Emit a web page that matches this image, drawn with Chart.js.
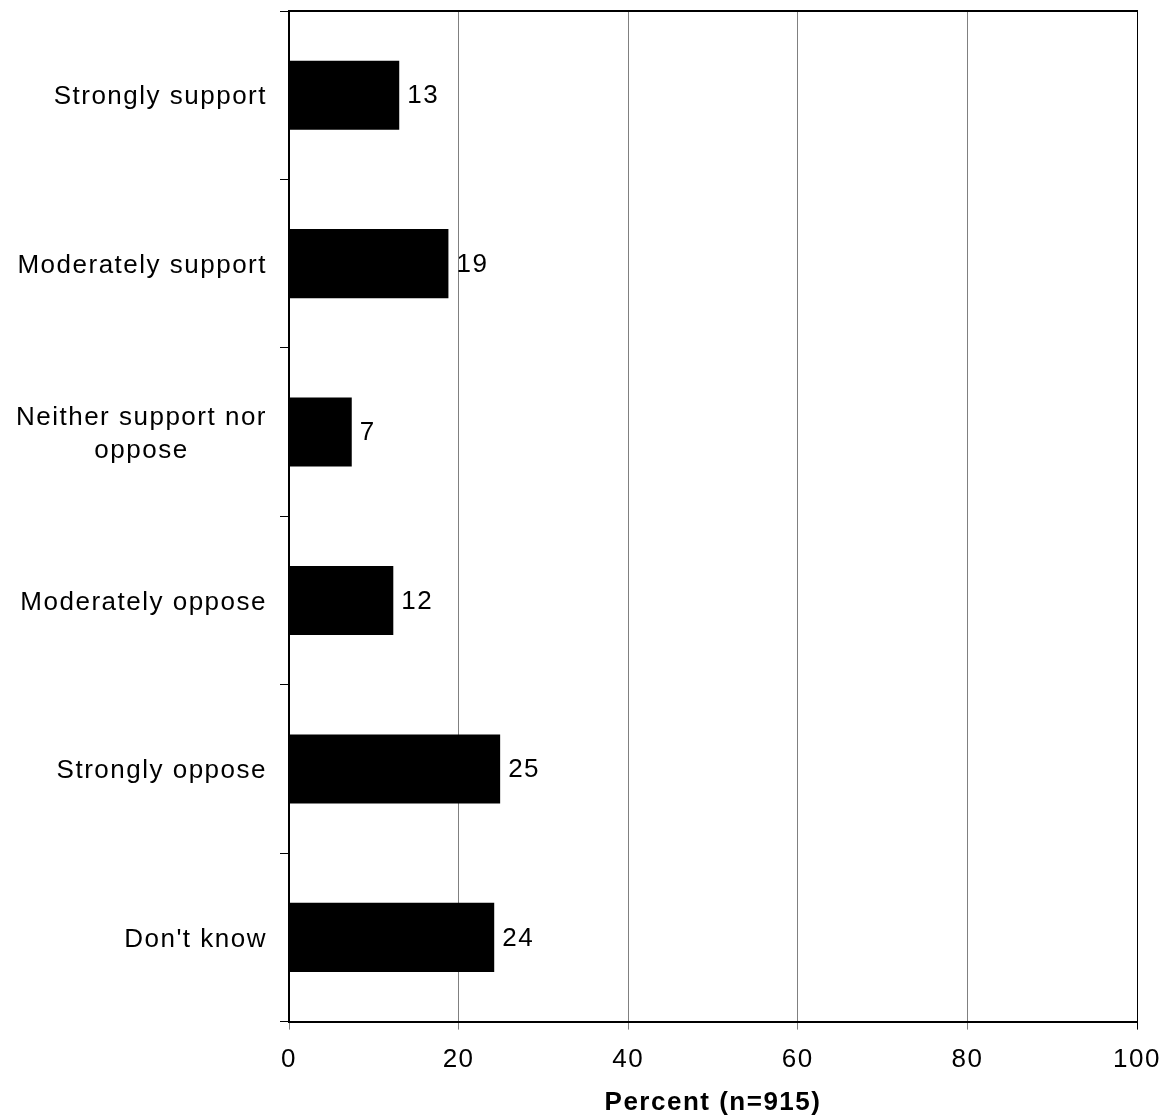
<!DOCTYPE html>
<html>
<head>
<meta charset="utf-8">
<script src="https://cdn.jsdelivr.net/npm/chart.js@4/dist/chart.umd.min.js"></script>
<style>
  html, body { margin: 0; padding: 0; background: #fff; }
  #wrap { width: 1165px; height: 1119px; }
</style>
</head>
<body>
<div id="wrap"><canvas id="surveyChart"></canvas></div>
<script>
const categories = [
  "Strongly support",
  "Moderately support",
  ["Neither support nor", "oppose"],
  "Moderately oppose",
  "Strongly oppose",
  "Don't know",
];
const percents = [13.0, 18.8, 7.4, 12.3, 24.9, 24.2];
const valueLabels = ["13", "19", "7", "12", "25", "24"];
const xTicks = [0, 20, 40, 60, 80, 100];

const FONT = "'Liberation Sans', Arial, sans-serif";
const SPACING = "1.5px";

// canvas letter spacing (reset whenever the canvas is resized)
const spacingPlugin = {
  id: "spacing",
  beforeLayout(chart) { chart.ctx.letterSpacing = SPACING; },
  beforeDraw(chart) { chart.ctx.letterSpacing = SPACING; },
};

// category labels: right-aligned block, lines centred inside it
const labelPlugin = {
  id: "catLabels",
  afterDraw(chart) {
    const ctx = chart.ctx;
    const y = chart.scales.y;
    const right = chart.chartArea.left - 22;
    ctx.save();
    ctx.letterSpacing = SPACING;
    ctx.font = "26px " + FONT;
    ctx.fillStyle = "#000";
    ctx.textBaseline = "middle";
    ctx.textAlign = "center";
    categories.forEach((lab, i) => {
      const lines = Array.isArray(lab) ? lab : [lab];
      const w = Math.max(...lines.map((l) => ctx.measureText(l).width));
      const cx = right - w / 2;
      const mid = y.getPixelForValue(i) + 2;
      const lh = 33;
      lines.forEach((l, j) => {
        ctx.fillText(l, cx, mid + (j - (lines.length - 1) / 2) * lh);
      });
    });
    // value labels at the bar ends
    const x = chart.scales.x;
    ctx.textAlign = "left";
    percents.forEach((v, i) => {
      ctx.fillText(valueLabels[i], x.getPixelForValue(v) + 8, y.getPixelForValue(i) + 1);
    });
    ctx.restore();
  },
};

new Chart(document.getElementById("surveyChart"), {
  type: "bar",
  data: {
    labels: categories,
    datasets: [
      {
        data: percents,
        backgroundColor: "#000000",
        borderWidth: 0,
        categoryPercentage: 1,
        barPercentage: 0.41,
      },
    ],
  },
  options: {
    indexAxis: "y",
    responsive: true,
    maintainAspectRatio: false,
    animation: false,
    layout: { padding: { left: 280, right: 28, top: 3, bottom: 1 } },
    plugins: {
      legend: { display: false },
      tooltip: { enabled: false },
    },
    scales: {
      x: {
        min: 0,
        max: 100,
        afterBuildTicks: (s) => { s.ticks = xTicks.map((v) => ({ value: v })); },
        afterFit: (s) => { s.paddingRight = 20; },
        grid: {
          color: (c) => (c.tick && c.tick.value === 100 ? "#000000" : "#808080"),
          lineWidth: 1,
          tickLength: 8,
        },
        border: { color: "#000000", width: 2 },
        ticks: {
          color: "#000000",
          font: { family: FONT, size: 26 },
          padding: 15,
          maxRotation: 0,
        },
        title: {
          display: true,
          text: "Percent (n=915)",
          color: "#000000",
          font: { family: FONT, size: 26, weight: "bold" },
          padding: { top: -4, bottom: 0 },
        },
      },
      x2: {
        position: "top",
        min: 0,
        max: 100,
        grid: { display: false },
        ticks: { display: false },
        border: { color: "#000000", width: 2 },
      },
      y: {
        grid: {
          offset: true,
          drawOnChartArea: false,
          color: "#000000",
          tickLength: 9,
        },
        border: { color: "#000000", width: 2 },
        ticks: { display: false },
      },
    },
  },
  plugins: [spacingPlugin, labelPlugin],
});
</script>
</body>
</html>
